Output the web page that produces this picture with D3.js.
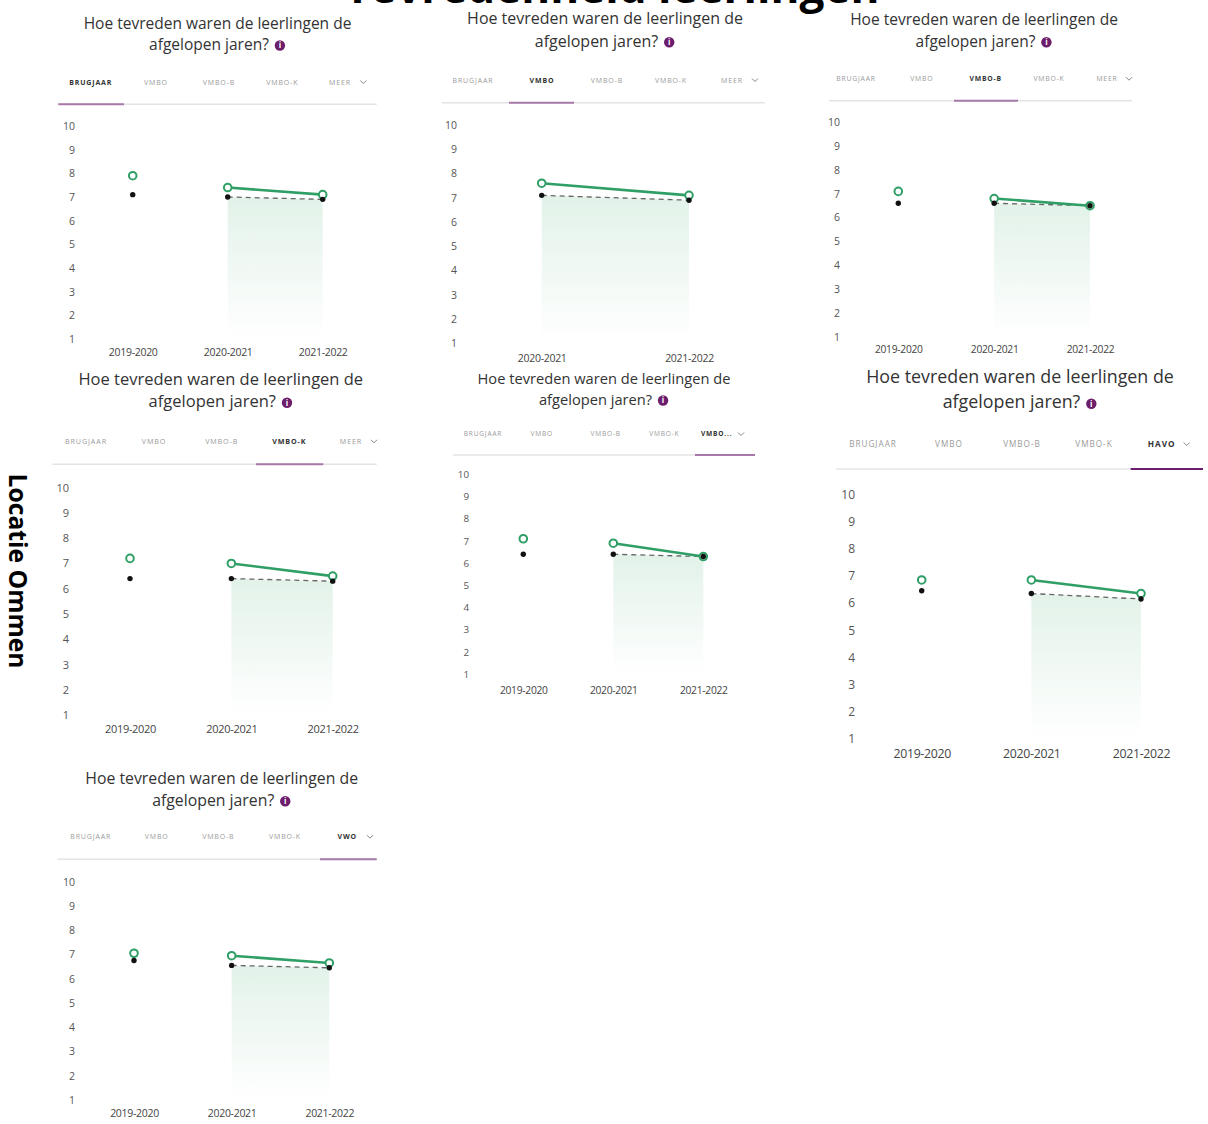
<!DOCTYPE html>
<html lang="nl">
<head>
<meta charset="UTF-8">
<title>Tevredenheid leerlingen</title>
<script src="https://d3js.org/d3.v7.min.js"></script>
<style>
  body { margin: 0; background: #fff; }
  svg { display: block; font-family: "Open Sans", sans-serif; }
</style>
</head>
<body>
<div id="chart"></div>
<script>
const years = ["2019-2020", "2020-2021", "2021-2022"];
const trendYears = ["2020-2021", "2021-2022"];
const yTickValues = [1, 2, 3, 4, 5, 6, 7, 8, 9, 10];
const tabLabels = ["BRUGJAAR", "VMBO", "VMBO-B", "VMBO-K"];
const lastTabLabels = ["MEER", "MEER", "MEER", "MEER", "VMBO...", "HAVO", "VWO"];
const activeTab = [0, 1, 2, 3, 4, 4, 4];
// groen = school, zwart = vergelijking (null = geen meting)
const greenScores = [
  [7.9, 7.4, 7.1],
  [null, 7.6, 7.1],
  [7.1, 6.8, 6.5],
  [7.2, 7.0, 6.5],
  [7.1, 6.9, 6.3],
  [6.85, 6.85, 6.35],
  [7.05, 6.95, 6.65]
];
const blackScores = [
  [7.1, 7.0, 6.9],
  [null, 7.1, 6.9],
  [6.6, 6.6, 6.5],
  [6.4, 6.4, 6.3],
  [6.4, 6.4, 6.3],
  [6.45, 6.35, 6.15],
  [6.75, 6.55, 6.45]
];
const mainTitle = "Tevredenheid leerlingen";
const sideLabel = "Locatie Ommen";
const titleLine1 = "Hoe tevreden waren de leerlingen de";
const titleLine2 = "afgelopen jaren?";

// plaats van elk paneel op de pagina
const layout = [
  {cx: 217.5, t1: 29, t2: 50, tw: 268, tabY: 82, tabs: [90.7, 156, 219, 282.3, 340], chev: 363.3, lineY: 104.3, lx0: 58.3, lx1: 376.7, px0: 58.3, px1: 124, tabFs: 7, yr: 75, y10: 126, y1: 339, x0: 132.7, x1: 322.7, xlab: 356, tickFs: 10.5, labFs: 10.5},
  {cx: 605, t1: 24.3, t2: 46.7, tw: 276, tabY: 80, tabs: [473, 542, 607, 671, 732], chev: 755, lineY: 102.7, lx0: 442, lx1: 765, px0: 509, px1: 574, tabFs: 7, yr: 457, y10: 125, y1: 343.3, x0: 541.7, x1: 689, xlab: 361.7, tickFs: 10.5, labFs: 10.5},
  {cx: 984, t1: 25, t2: 46.7, tw: 268, tabY: 78.7, tabs: [856, 921.7, 985.7, 1049, 1107], chev: 1129, lineY: 100.7, lx0: 829, lx1: 1132, px0: 954, px1: 1018, tabFs: 6.8, yr: 840, y10: 122.3, y1: 336.7, x0: 898.3, x1: 1090, xlab: 353.3, tickFs: 10.5, labFs: 10.3},
  {cx: 220.8, t1: 385, t2: 407.3, tw: 285, tabY: 441.3, tabs: [86, 154, 221.7, 289.3, 351], chev: 374, lineY: 464.3, lx0: 52.3, lx1: 376.7, px0: 256, px1: 323.3, tabFs: 7.2, yr: 69, y10: 487.7, y1: 715, x0: 130, x1: 332.7, xlab: 732.7, tickFs: 11, labFs: 11},
  {cx: 604, t1: 384, t2: 405, tw: 253, tabY: 434, tabs: [483, 541.7, 605.7, 664.3, 716.7], chev: 741, lineY: 455, lx0: 453, lx1: 755, px0: 695, px1: 755, tabFs: 6.6, yr: 469, y10: 474.3, y1: 674.3, x0: 523.3, x1: 703.3, xlab: 694, tickFs: 9.8, labFs: 10.3},
  {cx: 1020, t1: 382.7, t2: 408.3, tw: 308, tabY: 444, tabs: [873, 949, 1022, 1094, 1161.7], chev: 1186.7, lineY: 469, lx0: 836, lx1: 1203, px0: 1130.7, px1: 1203, tabFs: 8.2, yr: 855, y10: 494.3, y1: 739, x0: 921.7, x1: 1141, xlab: 758.3, tickFs: 12, labFs: 12.3},
  {cx: 221.7, t1: 784, t2: 805.7, tw: 273, tabY: 836.7, tabs: [90.7, 156.7, 218.3, 285, 347.3], chev: 370, lineY: 859.3, lx0: 57.3, lx1: 376.7, px0: 320, px1: 376.7, tabFs: 7, yr: 75, y10: 881.7, y1: 1100, x0: 134, x1: 329.3, xlab: 1116.7, tickFs: 10.5, labFs: 10.5}
];

const green = "#2f9f66";
const purple = "#6c1d6b";

const svg = d3.select("#chart")
  .append("svg")
  .attr("width", 1208)
  .attr("height", 1124);

// verloop onder de vergelijkingslijn
const grad = svg.append("defs").append("linearGradient")
  .attr("id", "fade")
  .attr("x1", 0).attr("y1", 0).attr("x2", 0).attr("y2", 1);
grad.append("stop").attr("offset", "0%").attr("stop-color", "#e2f2e9");
grad.append("stop").attr("offset", "100%").attr("stop-color", "#ffffff");

function fitWidth(sel, w) {
  const cur = sel.node().getComputedTextLength();
  const fs = parseFloat(sel.attr("font-size"));
  sel.attr("font-size", fs * w / cur);
  return fs * w / cur;
}

// grote titel, valt bovenaan grotendeels buiten beeld
const big = svg.append("text")
  .attr("x", 612)
  .attr("y", 3)
  .attr("text-anchor", "middle")
  .attr("font-size", 40)
  .attr("font-weight", 700)
  .attr("fill", "#000")
  .text(mainTitle);
fitWidth(big, 535);

const side = svg.append("text")
  .attr("transform", "translate(8.5,571) rotate(90)")
  .attr("text-anchor", "middle")
  .attr("font-size", 24)
  .attr("font-weight", 700)
  .attr("fill", "#000")
  .text(sideLabel);
fitWidth(side, 195);

layout.forEach((L, i) => {
  const g = svg.append("g");

  // titel
  const l1 = g.append("text")
    .attr("x", L.cx).attr("y", L.t1)
    .attr("text-anchor", "middle")
    .attr("font-size", 15)
    .attr("fill", "#333")
    .text(titleLine1);
  const fs = fitWidth(l1, L.tw);
  const l2 = g.append("text")
    .attr("y", L.t2)
    .attr("font-size", fs)
    .attr("fill", "#333")
    .text(titleLine2);
  const w2 = l2.node().getComputedTextLength();
  const start = L.cx - (w2 + 17) / 2;
  l2.attr("x", start);
  const icx = start + w2 + 11;
  g.append("circle")
    .attr("cx", icx).attr("cy", L.t2 - 4.5)
    .attr("r", 5.2)
    .attr("fill", purple);
  g.append("text")
    .attr("x", icx).attr("y", L.t2 - 1.6)
    .attr("text-anchor", "middle")
    .attr("font-size", 8)
    .attr("font-weight", 700)
    .attr("fill", "#fff")
    .text("i");

  // tabbladen
  const labels = tabLabels.concat([lastTabLabels[i]]);
  labels.forEach((t, k) => {
    g.append("text")
      .attr("x", k === 4 ? L.tabs[k] : L.tabs[k])
      .attr("y", L.tabY + L.tabFs * 0.36)
      .attr("text-anchor", "middle")
      .attr("font-size", L.tabFs)
      .attr("letter-spacing", L.tabFs * 0.12)
      .attr("font-weight", k === activeTab[i] ? 700 : 400)
      .attr("fill", k === activeTab[i] ? "#333" : "#9a9a9a")
      .text(t);
  });
  g.append("path")
    .attr("d", `M${L.chev - 3},${L.tabY - 1.5}L${L.chev},${L.tabY + 1.5}L${L.chev + 3},${L.tabY - 1.5}`)
    .attr("fill", "none")
    .attr("stroke", "#777")
    .attr("stroke-width", 0.9);
  g.append("line")
    .attr("x1", L.lx0).attr("x2", L.lx1)
    .attr("y1", L.lineY).attr("y2", L.lineY)
    .attr("stroke", "#e4e4e4")
    .attr("stroke-width", 1.5);
  g.append("line")
    .attr("x1", L.px0).attr("x2", L.px1)
    .attr("y1", L.lineY).attr("y2", L.lineY)
    .attr("stroke", i === 5 ? purple : "#a879a8")
    .attr("stroke-width", 2);

  // schalen
  const pts = years.map((yr, j) => ({yr: yr, g: greenScores[i][j], b: blackScores[i][j]}))
    .filter(d => d.g !== null);
  const trend = pts.filter(d => trendYears.includes(d.yr));
  const x = d3.scalePoint().domain(pts.map(d => d.yr)).range([L.x0, L.x1]);
  const y = d3.scaleLinear().domain([1, 10]).range([L.y1, L.y10]);

  const ya = g.append("g")
    .attr("transform", `translate(${L.yr},0)`)
    .call(d3.axisLeft(y).tickValues(yTickValues).tickSize(0).tickPadding(0).tickFormat(d3.format("d")));
  ya.select(".domain").remove();
  ya.selectAll("text")
    .attr("font-family", "Open Sans, sans-serif")
    .attr("font-size", L.tickFs)
    .attr("fill", "#555");

  const xa = g.append("g")
    .attr("transform", `translate(0,${L.xlab})`)
    .call(d3.axisBottom(x).tickSize(0).tickPadding(0));
  xa.select(".domain").remove();
  xa.selectAll("text")
    .attr("y", 0).attr("dy", 0)
    .attr("font-family", "Open Sans, sans-serif")
    .attr("font-size", L.labFs)
    .attr("letter-spacing", -0.3)
    .attr("fill", "#444");

  // vlak, lijnen, punten
  g.append("path")
    .datum(trend)
    .attr("fill", "url(#fade)")
    .attr("d", d3.area().x(d => x(d.yr)).y0(y(1)).y1(d => y(d.b)));

  g.append("path")
    .datum(trend)
    .attr("fill", "none")
    .attr("stroke", "#666")
    .attr("stroke-width", 1.3)
    .attr("stroke-dasharray", "5,4")
    .attr("d", d3.line().x(d => x(d.yr)).y(d => y(d.b)));

  g.append("path")
    .datum(trend)
    .attr("fill", "none")
    .attr("stroke", green)
    .attr("stroke-width", 2.6)
    .attr("d", d3.line().x(d => x(d.yr)).y(d => y(d.g)));

  g.selectAll(".pt-g")
    .data(pts)
    .join("circle")
    .attr("class", "pt-g")
    .attr("cx", d => x(d.yr))
    .attr("cy", d => y(d.g))
    .attr("r", 3.8)
    .attr("fill", "#fff")
    .attr("stroke", green)
    .attr("stroke-width", 2);

  g.selectAll(".pt-b")
    .data(pts)
    .join("circle")
    .attr("class", "pt-b")
    .attr("cx", d => x(d.yr))
    .attr("cy", d => y(d.b))
    .attr("r", 2.7)
    .attr("fill", "#111");
});
</script>
</body>
</html>
